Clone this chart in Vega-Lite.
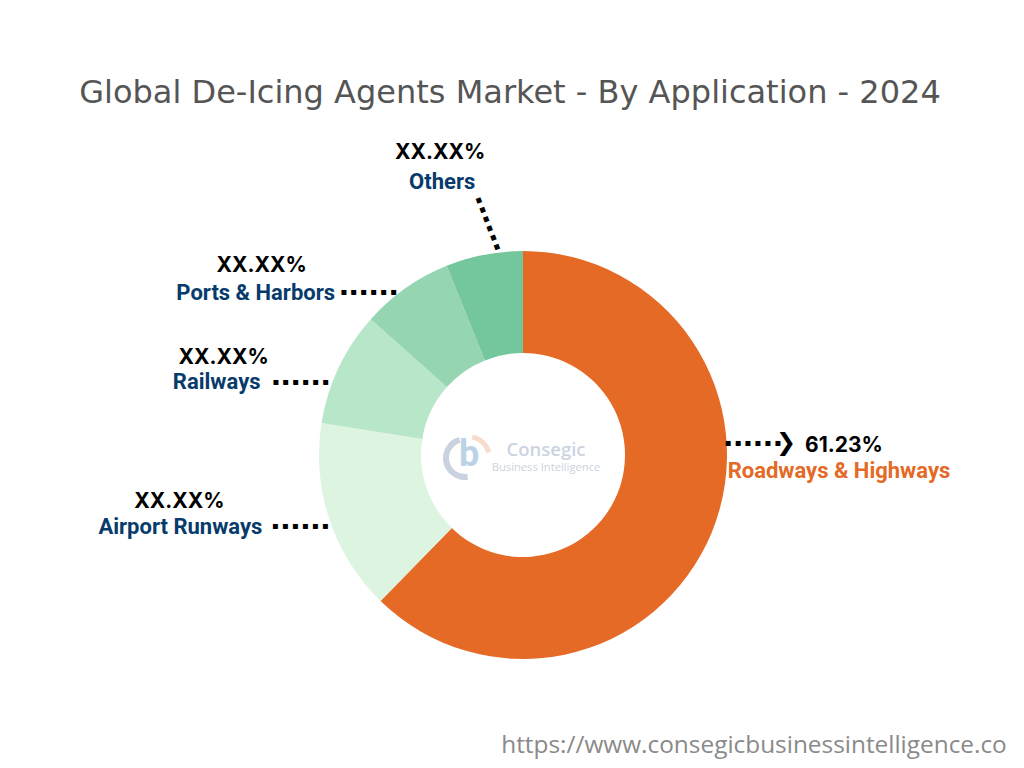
{
  "$schema": "https://vega.github.io/schema/vega-lite/v6.json",
  "width": 1002,
  "height": 626,
  "autosize": "none",
  "padding": {"left": 22, "right": 0, "top": 142, "bottom": 0},
  "background": "white",
  "title": {
    "text": "Global De-Icing Agents Market - By Application - 2024",
    "font": "DejaVu Sans",
    "fontSize": 32,
    "fontWeight": 400,
    "color": "#555555",
    "anchor": "middle",
    "dx": -13,
    "offset": 32
  },
  "data": {
    "values": [
      {"application": "Roadways & Highways", "share": 62.3, "label": "61.23%", "rank": 1},
      {"application": "Airport Runways", "share": 15.2, "label": "XX.XX%", "rank": 2},
      {"application": "Railways", "share": 9.1, "label": "XX.XX%", "rank": 3},
      {"application": "Ports & Harbors", "share": 7.3, "label": "XX.XX%", "rank": 4},
      {"application": "Others", "share": 6.1, "label": "XX.XX%", "rank": 5}
    ]
  },
  "encoding": {
    "theta": {"field": "share", "type": "quantitative", "stack": true},
    "order": {"field": "rank", "type": "ordinal"},
    "detail": {"field": "application"}
  },
  "layer": [
    {
      "mark": {"type": "arc", "outerRadius": 204, "innerRadius": 102},
      "encoding": {
        "fill": {
          "field": "application",
          "type": "nominal",
          "legend": null,
          "scale": {
            "domain": ["Roadways & Highways", "Airport Runways", "Railways", "Ports & Harbors", "Others"],
            "range": ["#E46A26", "#DCF4E0", "#B7E6C8", "#96D5B1", "#74C69D"]
          }
        }
      }
    },
    {
      "mark": {
        "type": "text",
        "radius": 204,
        "font": "Roboto",
        "fontWeight": 700,
        "fontSize": 22,
        "dx": {"expr": "{'Roadways & Highways':127,'Airport Runways':-149,'Railways':-122,'Ports & Harbors':-150,'Others':-42}[datum.application]"},
        "dy": {"expr": "{'Roadways & Highways':-61,'Airport Runways':8,'Railways':14,'Ports & Harbors':5,'Others':-73}[datum.application]"},
        "fill": {"expr": "datum.application == 'Roadways & Highways' ? '#E46A26' : '#073B6B'"}
      },
      "encoding": {"text": {"field": "application"}}
    },
    {
      "mark": {
        "type": "text",
        "radius": 204,
        "font": "Inter",
        "fontWeight": 700,
        "fontSize": 21,
        "fill": "#000000",
        "dx": {"expr": "{'Roadways & Highways':132,'Airport Runways':-150,'Railways':-115,'Ports & Harbors':-144,'Others':-44}[datum.application]"},
        "dy": {"expr": "{'Roadways & Highways':-86,'Airport Runways':-17,'Railways':-10,'Ports & Harbors':-22,'Others':-102}[datum.application]"}
      },
      "encoding": {"text": {"field": "label"}}
    },
    {
      "mark": {
        "type": "text",
        "radius": 204,
        "font": "DejaVu Sans",
        "fontSize": 10,
        "fill": "#000000",
        "text": "▪ ▪ ▪ ▪ ▪ ▪",
        "angle": {"expr": "datum.application == 'Others' ? 69 : 0"},
        "dx": {"expr": "{'Roadways & Highways':41,'Airport Runways':-29,'Railways':-38,'Ports & Harbors':-37,'Others':-27.5}[datum.application]"},
        "dy": {"expr": "{'Roadways & Highways':-89,'Airport Runways':7,'Railways':14,'Ports & Harbors':4,'Others':-15}[datum.application]"}
      }
    },
    {
      "mark": {
        "type": "text",
        "radius": 204,
        "font": "DejaVu Sans",
        "fontWeight": 700,
        "fontSize": 24,
        "fill": "#000000",
        "text": {"expr": "datum.application == 'Roadways & Highways' ? '❯' : ''"},
        "dx": 74,
        "dy": -89
      }
    },
    {
      "data": {"values": [{"part": "arc"}]},
      "mark": {"type": "arc", "theta": 3.0, "theta2": 6.0, "outerRadius": 22, "innerRadius": 16, "xOffset": -58, "yOffset": 3, "fill": "#C9D2DE"},
      "encoding": {"theta": null, "order": null, "detail": null}
    },
    {
      "data": {"values": [{"part": "arc"}]},
      "mark": {"type": "arc", "theta": 0.2, "theta2": 1.3, "outerRadius": 24, "innerRadius": 19, "xOffset": -55, "yOffset": 3, "fill": "#F7DCCB"},
      "encoding": {"theta": null, "order": null, "detail": null}
    },
    {
      "data": {"values": [{"mark": "b"}]},
      "mark": {"type": "text", "font": "Roboto", "fontWeight": 700, "fontSize": 36, "fill": "#BBD3E5", "dx": -54, "dy": 0},
      "encoding": {"text": {"field": "mark"}, "theta": null, "order": null, "detail": null}
    },
    {
      "data": {"values": [{"name": "Consegic"}]},
      "mark": {"type": "text", "font": "Open Sans", "fontWeight": 600, "fontSize": 18.5, "fill": "#CBD4E0", "dx": 23, "dy": -5},
      "encoding": {"text": {"field": "name"}, "theta": null, "order": null, "detail": null}
    },
    {
      "data": {"values": [{"name": "Business Intelligence"}]},
      "mark": {"type": "text", "font": "Open Sans", "fontSize": 11.2, "fill": "#CBD4E0", "dx": 23, "dy": 13},
      "encoding": {"text": {"field": "name"}, "theta": null, "order": null, "detail": null}
    },
    {
      "data": {"values": [{"site": "https://www.consegicbusinessintelligence.co"}]},
      "mark": {"type": "text", "font": "Open Sans", "fontSize": 24.4, "fill": "#8A8A8A", "dx": 231, "dy": 291},
      "encoding": {"text": {"field": "site"}, "theta": null, "order": null, "detail": null}
    }
  ]
}
